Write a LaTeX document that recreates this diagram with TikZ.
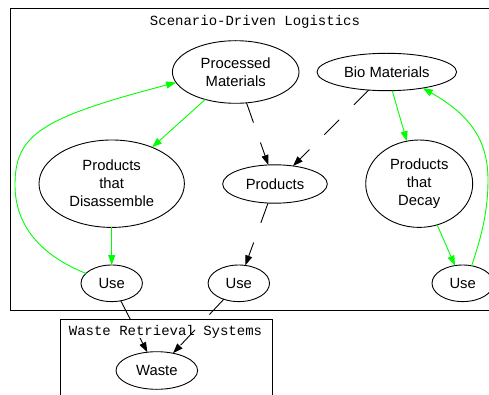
\documentclass[tikz,border=0pt]{standalone}
\usepackage{fontspec}
\setmainfont{Liberation Sans}
\newfontfamily\monofont{Liberation Mono}
\usetikzlibrary{shapes.geometric,arrows.meta}
\definecolor{gvgreen}{RGB}{0,255,0}
\begin{document}
\begin{tikzpicture}[x=1pt,y=-1pt,
  every node/.style={font=\fontsize{14.8}{18}\selectfont},
  el/.style={ellipse,draw,line width=0.9pt,inner sep=0pt,outer sep=0pt,align=center},
  cltitle/.style={font=\monofont\fontsize{14}{16}\selectfont,inner sep=0pt},
  cluster/.style={draw,line width=0.9pt},
  gedge/.style={draw=gvgreen,line width=0.9pt,-{Triangle[length=10pt,width=7pt]}},
  dedge/.style={draw=black,line width=0.9pt,dash pattern=on 21pt off 21pt,-{Triangle[length=10pt,width=7pt]}}
]
\clip (0,0) rectangle (489,395);
% clusters
\draw[cluster] (10,8) rectangle (520,310);
\node[cltitle] (t1) at (255,22) {Scenario-Driven Logistics};
\draw[cluster] (60,319) rectangle (272.7,420);
\node[cltitle] (t2) at (165.5,332) {Waste Retrieval Systems};
% nodes
\node[el,minimum width=126.6pt,minimum height=62.6pt] (pm) at (235.7,72) {Processed\\Materials};
\node[el,minimum width=139.6pt,minimum height=37.4pt] (bm) at (386.8,72) {Bio Materials};
\node[el,minimum width=145.4pt,minimum height=87.4pt] (pd) at (111.7,183.7) {Products\\that\\Disassemble};
\node[el,minimum width=104.6pt,minimum height=38.4pt] (pr) at (275,184) {Products};
\node[el,minimum width=107pt,minimum height=87.4pt] (pc) at (419.2,183.7) {Products\\that\\Decay};
\node[el,minimum width=61.4pt,minimum height=36.6pt] (u1) at (111.7,283.3) {Use};
\node[el,minimum width=61.4pt,minimum height=36.6pt] (u2) at (238.8,283.3) {Use};
\node[el,minimum width=61.4pt,minimum height=36.6pt] (u3) at (462.7,283.3) {Use};
\node[el,minimum width=81.6pt,minimum height=37.6pt] (w) at (156.8,370.5) {Waste};
% edges
\draw[gedge] (pm) -- (pd);
\draw[dedge] (pm) -- (pr);
\draw[dedge] (bm) -- (pr);
\draw[gedge] (bm) -- (pc);
\draw[gedge] (pd) -- (u1);
\draw[dedge] (pr) -- (u2);
\draw[gedge] (pc) -- (u3);
\draw[dedge] (u1) -- (w);
\draw[dedge] (u2) -- (w);
\draw[gedge] (u1.159) .. controls (40,255) and (15,225) .. (15,185) .. controls (15,135) and (40,118) .. (pm.190);
\draw[gedge] (u3.63) .. controls (482,235) and (488,210) .. (488,180) .. controls (488,140) and (470,115) .. (bm.336);
\end{tikzpicture}
\end{document}
